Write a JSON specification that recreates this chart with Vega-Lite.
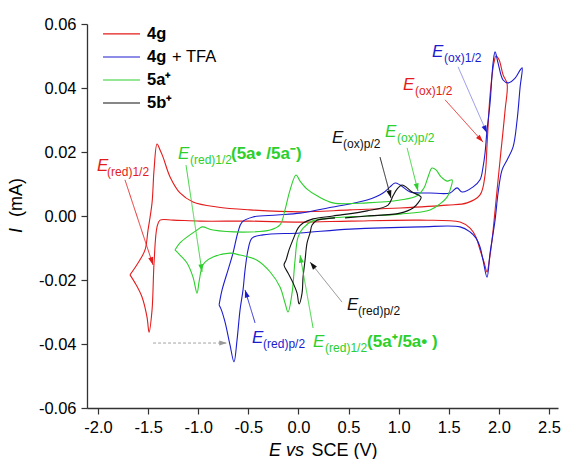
{
  "$schema": "https://vega.github.io/schema/vega-lite/v6.json",
  "width": 471,
  "height": 384,
  "autosize": {"type": "none"},
  "padding": {"left": 87, "top": 24, "right": 10, "bottom": 51},
  "background": "white",
  "config": {
    "view": {"stroke": null},
    "font": "Liberation Sans",
    "text": {"font": "Liberation Sans"}
  },
  "datasets": {
    "cv": [
      {"s":"4g","o":1,"E":-1.681,"I":-0.0184},{"s":"4g","o":2,"E":-1.601,"I":-0.0147},{"s":"4g","o":3,"E":-1.531,"I":-0.0106},{"s":"4g","o":4,"E":-1.501,"I":-0.0044},{"s":"4g","o":5,"E":-1.461,"I":0.0041},{"s":"4g","o":6,"E":-1.441,"I":0.0144},{"s":"4g","o":7,"E":-1.411,"I":0.0225},{"s":"4g","o":8,"E":-1.381,"I":0.0206},{"s":"4g","o":9,"E":-1.351,"I":0.0184},{"s":"4g","o":10,"E":-1.281,"I":0.0122},{"s":"4g","o":11,"E":-1.182,"I":0.0072},{"s":"4g","o":12,"E":-1.052,"I":0.0044},{"s":"4g","o":13,"E":-0.812,"I":0.0028},{"s":"4g","o":14,"E":-0.483,"I":0.0019},{"s":"4g","o":15,"E":0.016,"I":0.0013},{"s":"4g","o":16,"E":0.515,"I":0.0019},{"s":"4g","o":17,"E":1.014,"I":0.0025},{"s":"4g","o":18,"E":1.483,"I":0.0034},{"s":"4g","o":19,"E":1.683,"I":0.0041},{"s":"4g","o":20,"E":1.812,"I":0.0066},{"s":"4g","o":21,"E":1.862,"I":0.0128},{"s":"4g","o":22,"E":1.882,"I":0.0222},{"s":"4g","o":23,"E":1.912,"I":0.0378},{"s":"4g","o":24,"E":1.952,"I":0.0481},{"s":"4g","o":25,"E":1.972,"I":0.05},{"s":"4g","o":26,"E":2.002,"I":0.0488},{"s":"4g","o":27,"E":2.042,"I":0.0441},{"s":"4g","o":28,"E":2.082,"I":0.0413},{"s":"4g","o":29,"E":2.062,"I":0.0331},{"s":"4g","o":30,"E":2.012,"I":0.0175},{"s":"4g","o":31,"E":1.972,"I":0.005},{"s":"4g","o":32,"E":1.932,"I":-0.0075},{"s":"4g","o":33,"E":1.902,"I":-0.0144},{"s":"4g","o":34,"E":1.882,"I":-0.0175},{"s":"4g","o":35,"E":1.852,"I":-0.0144},{"s":"4g","o":36,"E":1.812,"I":-0.0106},{"s":"4g","o":37,"E":1.772,"I":-0.0066},{"s":"4g","o":38,"E":1.713,"I":-0.0038},{"s":"4g","o":39,"E":1.613,"I":-0.0019},{"s":"4g","o":40,"E":1.214,"I":-0.0013},{"s":"4g","o":41,"E":0.515,"I":-0.0016},{"s":"4g","o":42,"E":0.016,"I":-0.0019},{"s":"4g","o":43,"E":-0.483,"I":-0.0016},{"s":"4g","o":44,"E":-0.982,"I":-0.0016},{"s":"4g","o":45,"E":-1.251,"I":-0.0013},{"s":"4g","o":46,"E":-1.381,"I":-0.0013},{"s":"4g","o":47,"E":-1.411,"I":-0.0034},{"s":"4g","o":48,"E":-1.441,"I":-0.0147},{"s":"4g","o":49,"E":-1.461,"I":-0.0294},{"s":"4g","o":50,"E":-1.491,"I":-0.0363},{"s":"4g","o":51,"E":-1.511,"I":-0.0316},{"s":"4g","o":52,"E":-1.561,"I":-0.0253},{"s":"4g","o":53,"E":-1.631,"I":-0.0209},{"s":"4g","o":54,"E":-1.681,"I":-0.0184},
      {"s":"4g + TFA","o":1,"E":-0.792,"I":-0.0278},{"s":"4g + TFA","o":2,"E":-0.762,"I":-0.0231},{"s":"4g + TFA","o":3,"E":-0.703,"I":-0.0169},{"s":"4g + TFA","o":4,"E":-0.653,"I":-0.0116},{"s":"4g + TFA","o":5,"E":-0.603,"I":-0.005},{"s":"4g + TFA","o":6,"E":-0.563,"I":-0.0019},{"s":"4g + TFA","o":7,"E":-0.453,"I":-0.0003},{"s":"4g + TFA","o":8,"E":-0.214,"I":0.0003},{"s":"4g + TFA","o":9,"E":0.016,"I":0.0009},{"s":"4g + TFA","o":10,"E":0.345,"I":0.0028},{"s":"4g + TFA","o":11,"E":0.685,"I":0.005},{"s":"4g + TFA","o":12,"E":0.844,"I":0.0072},{"s":"4g + TFA","o":13,"E":0.914,"I":0.0091},{"s":"4g + TFA","o":14,"E":0.964,"I":0.0103},{"s":"4g + TFA","o":15,"E":1.014,"I":0.0097},{"s":"4g + TFA","o":16,"E":1.114,"I":0.0075},{"s":"4g + TFA","o":17,"E":1.214,"I":0.0072},{"s":"4g + TFA","o":18,"E":1.313,"I":0.0072},{"s":"4g + TFA","o":19,"E":1.513,"I":0.0072},{"s":"4g + TFA","o":20,"E":1.583,"I":0.0088},{"s":"4g + TFA","o":21,"E":1.633,"I":0.0075},{"s":"4g + TFA","o":22,"E":1.743,"I":0.0091},{"s":"4g + TFA","o":23,"E":1.812,"I":0.0113},{"s":"4g + TFA","o":24,"E":1.842,"I":0.0153},{"s":"4g + TFA","o":25,"E":1.862,"I":0.0197},{"s":"4g + TFA","o":26,"E":1.882,"I":0.0269},{"s":"4g + TFA","o":27,"E":1.912,"I":0.0353},{"s":"4g + TFA","o":28,"E":1.942,"I":0.0478},{"s":"4g + TFA","o":29,"E":1.962,"I":0.0513},{"s":"4g + TFA","o":30,"E":1.992,"I":0.0478},{"s":"4g + TFA","o":31,"E":2.042,"I":0.0425},{"s":"4g + TFA","o":32,"E":2.092,"I":0.0416},{"s":"4g + TFA","o":33,"E":2.162,"I":0.0431},{"s":"4g + TFA","o":34,"E":2.212,"I":0.0456},{"s":"4g + TFA","o":35,"E":2.232,"I":0.0463},{"s":"4g + TFA","o":36,"E":2.212,"I":0.0403},{"s":"4g + TFA","o":37,"E":2.182,"I":0.03},{"s":"4g + TFA","o":38,"E":2.142,"I":0.0216},{"s":"4g + TFA","o":39,"E":2.082,"I":0.0175},{"s":"4g + TFA","o":40,"E":2.032,"I":0.0144},{"s":"4g + TFA","o":41,"E":1.992,"I":0.0072},{"s":"4g + TFA","o":42,"E":1.962,"I":-0.0013},{"s":"4g + TFA","o":43,"E":1.912,"I":-0.0116},{"s":"4g + TFA","o":44,"E":1.882,"I":-0.0191},{"s":"4g + TFA","o":45,"E":1.842,"I":-0.0138},{"s":"4g + TFA","o":46,"E":1.812,"I":-0.0097},{"s":"4g + TFA","o":47,"E":1.772,"I":-0.0069},{"s":"4g + TFA","o":48,"E":1.713,"I":-0.005},{"s":"4g + TFA","o":49,"E":1.613,"I":-0.0034},{"s":"4g + TFA","o":50,"E":1.214,"I":-0.0034},{"s":"4g + TFA","o":51,"E":0.515,"I":-0.0041},{"s":"4g + TFA","o":52,"E":0.016,"I":-0.0053},{"s":"4g + TFA","o":53,"E":-0.353,"I":-0.0059},{"s":"4g + TFA","o":54,"E":-0.463,"I":-0.0069},{"s":"4g + TFA","o":55,"E":-0.503,"I":-0.0106},{"s":"4g + TFA","o":56,"E":-0.533,"I":-0.0169},{"s":"4g + TFA","o":57,"E":-0.553,"I":-0.0231},{"s":"4g + TFA","o":58,"E":-0.583,"I":-0.0294},{"s":"4g + TFA","o":59,"E":-0.613,"I":-0.0388},{"s":"4g + TFA","o":60,"E":-0.643,"I":-0.0456},{"s":"4g + TFA","o":61,"E":-0.683,"I":-0.0403},{"s":"4g + TFA","o":62,"E":-0.733,"I":-0.0331},{"s":"4g + TFA","o":63,"E":-0.772,"I":-0.0291},{"s":"4g + TFA","o":64,"E":-0.792,"I":-0.0278},
      {"s":"5a⁺","o":1,"E":-1.232,"I":-0.0106},{"s":"5a⁺","o":2,"E":-1.182,"I":-0.0084},{"s":"5a⁺","o":3,"E":-1.082,"I":-0.0059},{"s":"5a⁺","o":4,"E":-1.012,"I":-0.0044},{"s":"5a⁺","o":5,"E":-0.962,"I":-0.0034},{"s":"5a⁺","o":6,"E":-0.852,"I":-0.0044},{"s":"5a⁺","o":7,"E":-0.483,"I":-0.005},{"s":"5a⁺","o":8,"E":-0.282,"I":-0.0044},{"s":"5a⁺","o":9,"E":-0.184,"I":-0.0028},{"s":"5a⁺","o":10,"E":-0.134,"I":0.0019},{"s":"5a⁺","o":11,"E":-0.084,"I":0.0081},{"s":"5a⁺","o":12,"E":-0.024,"I":0.0128},{"s":"5a⁺","o":13,"E":0.016,"I":0.0109},{"s":"5a⁺","o":14,"E":0.086,"I":0.0084},{"s":"5a⁺","o":15,"E":0.186,"I":0.0063},{"s":"5a⁺","o":16,"E":0.345,"I":0.0041},{"s":"5a⁺","o":17,"E":0.685,"I":0.0041},{"s":"5a⁺","o":18,"E":1.014,"I":0.005},{"s":"5a⁺","o":19,"E":1.184,"I":0.0063},{"s":"5a⁺","o":20,"E":1.254,"I":0.0088},{"s":"5a⁺","o":21,"E":1.293,"I":0.0122},{"s":"5a⁺","o":22,"E":1.333,"I":0.015},{"s":"5a⁺","o":23,"E":1.373,"I":0.0144},{"s":"5a⁺","o":24,"E":1.423,"I":0.0122},{"s":"5a⁺","o":25,"E":1.483,"I":0.0109},{"s":"5a⁺","o":26,"E":1.533,"I":0.0113},{"s":"5a⁺","o":27,"E":1.513,"I":0.0081},{"s":"5a⁺","o":28,"E":1.483,"I":0.0059},{"s":"5a⁺","o":29,"E":1.413,"I":0.0038},{"s":"5a⁺","o":30,"E":1.313,"I":0.0019},{"s":"5a⁺","o":31,"E":1.014,"I":0.0006},{"s":"5a⁺","o":32,"E":0.685,"I":0.0},{"s":"5a⁺","o":33,"E":0.345,"I":-0.0006},{"s":"5a⁺","o":34,"E":0.136,"I":-0.0016},{"s":"5a⁺","o":35,"E":0.046,"I":-0.0038},{"s":"5a⁺","o":36,"E":-0.004,"I":-0.0066},{"s":"5a⁺","o":37,"E":-0.034,"I":-0.0138},{"s":"5a⁺","o":38,"E":-0.064,"I":-0.0241},{"s":"5a⁺","o":39,"E":-0.104,"I":-0.03},{"s":"5a⁺","o":40,"E":-0.134,"I":-0.0272},{"s":"5a⁺","o":41,"E":-0.184,"I":-0.0222},{"s":"5a⁺","o":42,"E":-0.282,"I":-0.0175},{"s":"5a⁺","o":43,"E":-0.413,"I":-0.0138},{"s":"5a⁺","o":44,"E":-0.583,"I":-0.0122},{"s":"5a⁺","o":45,"E":-0.683,"I":-0.0116},{"s":"5a⁺","o":46,"E":-0.852,"I":-0.0128},{"s":"5a⁺","o":47,"E":-0.932,"I":-0.0144},{"s":"5a⁺","o":48,"E":-0.962,"I":-0.0159},{"s":"5a⁺","o":49,"E":-0.992,"I":-0.0206},{"s":"5a⁺","o":50,"E":-1.012,"I":-0.0241},{"s":"5a⁺","o":51,"E":-1.052,"I":-0.0191},{"s":"5a⁺","o":52,"E":-1.112,"I":-0.0147},{"s":"5a⁺","o":53,"E":-1.182,"I":-0.0122},{"s":"5a⁺","o":54,"E":-1.232,"I":-0.0106},
      {"s":"5b⁺","o":1,"E":0.365,"I":-0.0006},{"s":"5b⁺","o":2,"E":0.266,"I":-0.0009},{"s":"5b⁺","o":3,"E":0.186,"I":-0.0013},{"s":"5b⁺","o":4,"E":0.136,"I":-0.0028},{"s":"5b⁺","o":5,"E":0.116,"I":-0.0053},{"s":"5b⁺","o":6,"E":0.086,"I":-0.0084},{"s":"5b⁺","o":7,"E":0.066,"I":-0.0138},{"s":"5b⁺","o":8,"E":0.046,"I":-0.0191},{"s":"5b⁺","o":9,"E":0.036,"I":-0.0241},{"s":"5b⁺","o":10,"E":0.006,"I":-0.0275},{"s":"5b⁺","o":11,"E":-0.014,"I":-0.0241},{"s":"5b⁺","o":12,"E":-0.054,"I":-0.0209},{"s":"5b⁺","o":13,"E":-0.104,"I":-0.0178},{"s":"5b⁺","o":14,"E":-0.144,"I":-0.0153},{"s":"5b⁺","o":15,"E":-0.124,"I":-0.0138},{"s":"5b⁺","o":16,"E":-0.094,"I":-0.0106},{"s":"5b⁺","o":17,"E":-0.044,"I":-0.0066},{"s":"5b⁺","o":18,"E":-0.004,"I":-0.0038},{"s":"5b⁺","o":19,"E":0.046,"I":-0.0022},{"s":"5b⁺","o":20,"E":0.146,"I":-0.0009},{"s":"5b⁺","o":21,"E":0.345,"I":0.0},{"s":"5b⁺","o":22,"E":0.685,"I":0.0016},{"s":"5b⁺","o":23,"E":0.894,"I":0.0034},{"s":"5b⁺","o":24,"E":0.944,"I":0.0063},{"s":"5b⁺","o":25,"E":0.984,"I":0.0084},{"s":"5b⁺","o":26,"E":1.034,"I":0.0097},{"s":"5b⁺","o":27,"E":1.084,"I":0.0088},{"s":"5b⁺","o":28,"E":1.134,"I":0.0075},{"s":"5b⁺","o":29,"E":1.194,"I":0.0066},{"s":"5b⁺","o":30,"E":1.224,"I":0.0059},{"s":"5b⁺","o":31,"E":1.194,"I":0.0041},{"s":"5b⁺","o":32,"E":1.144,"I":0.0025},{"s":"5b⁺","o":33,"E":1.014,"I":0.0009},{"s":"5b⁺","o":34,"E":0.685,"I":0.0},{"s":"5b⁺","o":35,"E":0.465,"I":-0.0006}
    ],
    "arrows": [
      {"id":"A1","ser":"4g","x0":-1.731,"y0":0.0113,"x1":-1.451,"y1":-0.0153,"heading":162},
      {"id":"A2","ser":"5a⁺","x0":-1.122,"y0":0.0159,"x1":-0.962,"y1":-0.0175,"heading":171.5},
      {"id":"A3","ser":"5b⁺","x0":0.814,"y0":0.0184,"x1":0.924,"y1":0.0056,"heading":164},
      {"id":"A4","ser":"5a⁺","x0":1.084,"y0":0.0213,"x1":1.193,"y1":0.0078,"heading":166},
      {"id":"A5","ser":"4g + TFA","x0":1.593,"y0":0.0466,"x1":1.882,"y1":0.0259,"heading":156},
      {"id":"A6","ser":"4g","x0":1.463,"y0":0.0363,"x1":1.842,"y1":0.0231,"heading":138},
      {"id":"A7","ser":"4g + TFA","x0":-0.433,"y0":-0.0334,"x1":-0.533,"y1":-0.0231,"heading":-17},
      {"id":"A8","ser":"guide","x0":-1.451,"y0":-0.0397,"x1":-0.713,"y1":-0.0397,"heading":90},
      {"id":"A9","ser":"5b⁺","x0":0.435,"y0":-0.0269,"x1":0.116,"y1":-0.0144,"heading":-39},
      {"id":"A10","ser":"5a⁺","x0":0.146,"y0":-0.035,"x1":0.016,"y1":-0.0122,"heading":-10}
    ],
    "notes": [
      {"ser":"4g","part":"E","x":-2.01,"y":0.0141,"txt":"E"},
      {"ser":"4g","part":"sub","x":-1.91,"y":0.0125,"txt":"(red)1/2"},
      {"ser":"5a⁺","part":"E","x":-1.202,"y":0.0178,"txt":"E"},
      {"ser":"5a⁺","part":"sub","x":-1.082,"y":0.01625,"txt":"(red)1/2"},
      {"ser":"5a⁺","part":"bold","x":-0.673,"y":0.0178,"txt":"(5a• /5a⁻)"},
      {"ser":"5b⁺","part":"E","x":0.335,"y":0.0228,"txt":"E"},
      {"ser":"5b⁺","part":"sub","x":0.445,"y":0.02125,"txt":"(ox)p/2"},
      {"ser":"5a⁺","part":"E","x":0.864,"y":0.0247,"txt":"E"},
      {"ser":"5a⁺","part":"sub","x":0.984,"y":0.0231,"txt":"(ox)p/2"},
      {"ser":"4g + TFA","part":"E","x":1.333,"y":0.0497,"txt":"E"},
      {"ser":"4g + TFA","part":"sub","x":1.453,"y":0.0481,"txt":"(ox)1/2"},
      {"ser":"4g","part":"E","x":1.044,"y":0.0394,"txt":"E"},
      {"ser":"4g","part":"sub","x":1.164,"y":0.0378,"txt":"(ox)1/2"},
      {"ser":"4g + TFA","part":"E","x":-0.463,"y":-0.0397,"txt":"E"},
      {"ser":"4g + TFA","part":"sub","x":-0.353,"y":-0.0413,"txt":"(red)p/2"},
      {"ser":"5b⁺","part":"E","x":0.485,"y":-0.0294,"txt":"E"},
      {"ser":"5b⁺","part":"sub","x":0.595,"y":-0.0309,"txt":"(red)p/2"},
      {"ser":"5a⁺","part":"E","x":0.146,"y":-0.0409,"txt":"E"},
      {"ser":"5a⁺","part":"sub","x":0.266,"y":-0.0425,"txt":"(red)1/2"},
      {"ser":"5a⁺","part":"bold","x":0.685,"y":-0.0409,"txt":"(5a⁺/5a• )"}
    ],
    "legend": [
      {"ser":"4g","x1":-1.95,"x2":-1.581,"y":0.0569,"lab":"4g"},
      {"ser":"4g + TFA","x1":-1.95,"x2":-1.581,"y":0.0497,"lab":"4g"},
      {"ser":"5a⁺","x1":-1.95,"x2":-1.581,"y":0.0425,"lab":"5a⁺"},
      {"ser":"5b⁺","x1":-1.95,"x2":-1.581,"y":0.0353,"lab":"5b⁺"}
    ],
    "titles": [
      {"axis":"x","part":"it","x":-0.293,"y":-0.075,"txt":"E vs"},
      {"axis":"x","part":"rm","x":0.131,"y":-0.075,"txt":"SCE (V)"},
      {"axis":"y","part":"it","x":-2.758,"y":-0.0053,"txt":"I"},
      {"axis":"y","part":"rm","x":-2.758,"y":-0.0003,"txt":"(mA)"}
    ]
  },
  "layer": [
    {
      "data": {"name": "cv"},
      "mark": {"type": "line", "strokeWidth": 1.1, "interpolate": "catmull-rom"},
      "encoding": {
        "x": {
          "field": "E", "type": "quantitative",
          "scale": {"domain": [-2.11, 2.59], "nice": false, "zero": false},
          "axis": {
            "title": null, "grid": false,
            "values": [-2, -1.75, -1.5, -1.25, -1, -0.75, -0.5, -0.25, 0, 0.25, 0.5, 0.75, 1, 1.25, 1.5, 1.75, 2, 2.25, 2.5],
            "domainColor": "#333333", "domainWidth": 1.3,
            "tickColor": "#333333", "tickWidth": 1.2,
            "tickSize": {"condition": {"test": "abs(datum.value*2 - round(datum.value*2)) < 0.01", "value": 6}, "value": 3},
            "labelExpr": "abs(datum.value*2 - round(datum.value*2)) < 0.01 ? (datum.value < -0.0001 ? '-' : '') + format(abs(datum.value), '.1f') : ''",
            "labelFont": "Liberation Sans", "labelFontSize": 16.5, "labelColor": "#000000",
            "labelPadding": 5, "labelOverlap": false, "labelFlush": false
          }
        },
        "y": {
          "field": "I", "type": "quantitative",
          "scale": {"domain": [-0.06, 0.06], "nice": false, "zero": false},
          "axis": {
            "title": null, "grid": false,
            "values": [-0.06, -0.05, -0.04, -0.03, -0.02, -0.01, 0, 0.01, 0.02, 0.03, 0.04, 0.05, 0.06],
            "domainColor": "#333333", "domainWidth": 1.3,
            "tickColor": "#333333", "tickWidth": 1.2,
            "tickSize": {"condition": {"test": "abs(datum.value*50 - round(datum.value*50)) < 0.01", "value": 6}, "value": 3},
            "labelExpr": "abs(datum.value*50 - round(datum.value*50)) < 0.01 ? (datum.value < -0.0001 ? '-' : '') + format(abs(datum.value), '.2f') : ''",
            "labelFont": "Liberation Sans", "labelFontSize": 16.5, "labelColor": "#000000",
            "labelPadding": 5, "labelOverlap": false, "labelFlush": false
          }
        },
        "color": {
          "field": "s", "type": "nominal", "legend": null,
          "scale": {"domain": ["4g", "4g + TFA", "5a⁺", "5b⁺", "guide"], "range": ["#e31b1b", "#1c1ccf", "#2ccf2c", "#111111", "#9a9a9a"]}
        },
        "order": {"field": "o", "type": "quantitative"}
      }
    },
    {
      "data": {"name": "arrows"},
      "mark": {"type": "rule", "strokeWidth": 0.9},
      "encoding": {
        "x": {"field": "x0", "type": "quantitative"},
        "y": {"field": "y0", "type": "quantitative"},
        "x2": {"field": "x1"},
        "y2": {"field": "y1"},
        "color": {"field": "ser", "type": "nominal", "legend": null},
        "strokeOpacity": {"condition": {"test": "datum.id == 'A9' || datum.id == 'A5'", "value": 0.5}, "value": 1},
        "strokeDash": {"condition": {"test": "datum.id == 'A8'", "value": [3, 2]}, "value": [1, 0]}
      }
    },
    {
      "data": {"name": "arrows"},
      "mark": {"type": "point", "shape": "M0,0L-0.65,2L0.65,2Z", "filled": true, "size": 60, "opacity": 1, "strokeWidth": 0},
      "encoding": {
        "x": {"field": "x1", "type": "quantitative"},
        "y": {"field": "y1", "type": "quantitative"},
        "angle": {"field": "heading", "type": "quantitative", "scale": null},
        "color": {"field": "ser", "type": "nominal", "legend": null}
      }
    },
    {
      "data": {"name": "notes"},
      "transform": [{"filter": "datum.part == 'E'"}],
      "mark": {"type": "text", "align": "left", "baseline": "alphabetic", "fontSize": 17, "fontStyle": "italic", "font": "Liberation Sans"},
      "encoding": {
        "x": {"field": "x", "type": "quantitative"},
        "y": {"field": "y", "type": "quantitative"},
        "text": {"field": "txt"},
        "color": {"field": "ser", "type": "nominal", "legend": null}
      }
    },
    {
      "data": {"name": "notes"},
      "transform": [{"filter": "datum.part == 'sub'"}],
      "mark": {"type": "text", "align": "left", "baseline": "alphabetic", "fontSize": 12, "font": "Liberation Sans"},
      "encoding": {
        "x": {"field": "x", "type": "quantitative"},
        "y": {"field": "y", "type": "quantitative"},
        "text": {"field": "txt"},
        "color": {"field": "ser", "type": "nominal", "legend": null}
      }
    },
    {
      "data": {"name": "notes"},
      "transform": [{"filter": "datum.part == 'bold'"}],
      "mark": {"type": "text", "align": "left", "baseline": "alphabetic", "fontSize": 17, "fontWeight": "bold", "font": "Liberation Sans"},
      "encoding": {
        "x": {"field": "x", "type": "quantitative"},
        "y": {"field": "y", "type": "quantitative"},
        "text": {"field": "txt"},
        "color": {"field": "ser", "type": "nominal", "legend": null}
      }
    },
    {
      "data": {"name": "legend"},
      "mark": {"type": "rule", "strokeWidth": 1.1},
      "encoding": {
        "x": {"field": "x1", "type": "quantitative"},
        "x2": {"field": "x2"},
        "y": {"field": "y", "type": "quantitative"},
        "color": {"field": "ser", "type": "nominal", "legend": null}
      }
    },
    {
      "data": {"name": "legend"},
      "mark": {"type": "text", "align": "left", "baseline": "middle", "fontSize": 16.5, "fontWeight": "bold", "font": "Liberation Sans", "color": "#000000"},
      "encoding": {
        "x": {"datum": -1.511, "type": "quantitative"},
        "y": {"field": "y", "type": "quantitative"},
        "text": {"field": "lab"}
      }
    },
    {
      "data": {"values": [{"x": -1.261, "y": 0.0497, "txt": "+ TFA"}]},
      "mark": {"type": "text", "align": "left", "baseline": "middle", "fontSize": 16.5, "font": "Liberation Sans", "color": "#000000"},
      "encoding": {
        "x": {"field": "x", "type": "quantitative"},
        "y": {"field": "y", "type": "quantitative"},
        "text": {"field": "txt"}
      }
    },
    {
      "data": {"name": "titles"},
      "transform": [{"filter": "datum.axis == 'x' && datum.part == 'it'"}],
      "mark": {"type": "text", "align": "left", "baseline": "alphabetic", "fontSize": 18, "fontStyle": "italic", "font": "Liberation Sans", "color": "#000000"},
      "encoding": {
        "x": {"field": "x", "type": "quantitative"},
        "y": {"field": "y", "type": "quantitative"},
        "text": {"field": "txt"}
      }
    },
    {
      "data": {"name": "titles"},
      "transform": [{"filter": "datum.axis == 'x' && datum.part == 'rm'"}],
      "mark": {"type": "text", "align": "left", "baseline": "alphabetic", "fontSize": 18, "font": "Liberation Sans", "color": "#000000"},
      "encoding": {
        "x": {"field": "x", "type": "quantitative"},
        "y": {"field": "y", "type": "quantitative"},
        "text": {"field": "txt"}
      }
    },
    {
      "data": {"name": "titles"},
      "transform": [{"filter": "datum.axis == 'y' && datum.part == 'it'"}],
      "mark": {"type": "text", "align": "left", "baseline": "alphabetic", "angle": 270, "fontSize": 18, "fontStyle": "italic", "font": "Liberation Sans", "color": "#000000"},
      "encoding": {
        "x": {"field": "x", "type": "quantitative"},
        "y": {"field": "y", "type": "quantitative"},
        "text": {"field": "txt"}
      }
    },
    {
      "data": {"name": "titles"},
      "transform": [{"filter": "datum.axis == 'y' && datum.part == 'rm'"}],
      "mark": {"type": "text", "align": "left", "baseline": "alphabetic", "angle": 270, "fontSize": 18, "font": "Liberation Sans", "color": "#000000"},
      "encoding": {
        "x": {"field": "x", "type": "quantitative"},
        "y": {"field": "y", "type": "quantitative"},
        "text": {"field": "txt"}
      }
    }
  ]
}
